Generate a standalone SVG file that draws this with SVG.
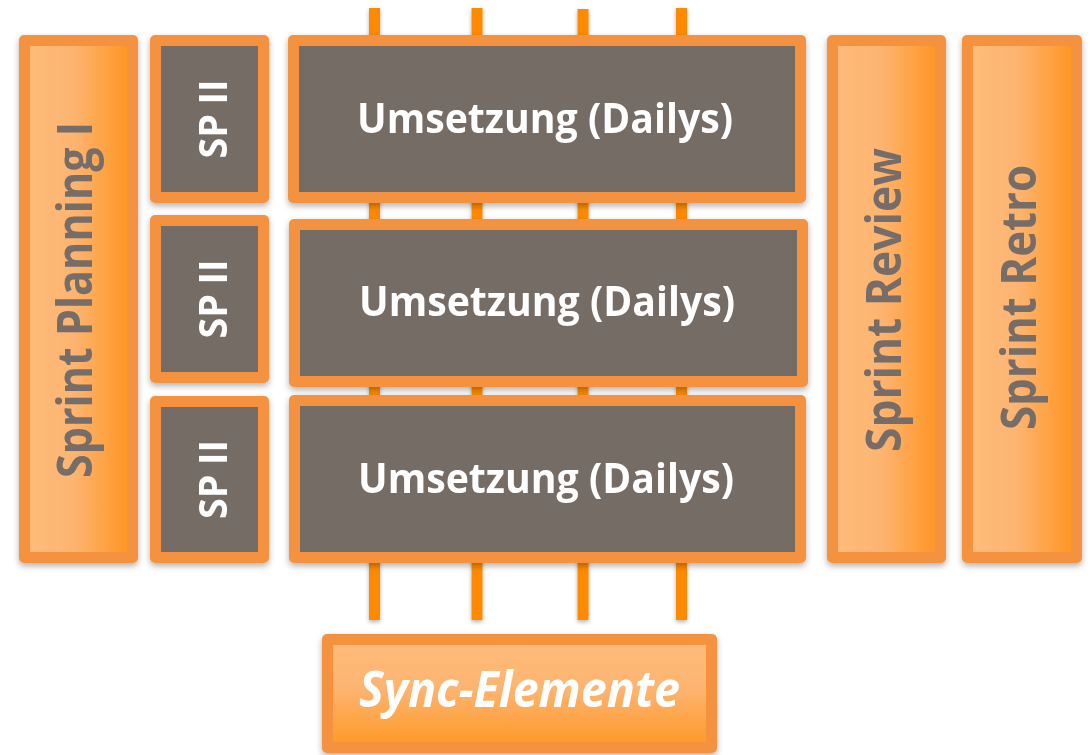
<svg xmlns="http://www.w3.org/2000/svg" width="1092" height="755" viewBox="0 0 1092 755">
  <defs>
    <linearGradient id="gH" x1="0" y1="0" x2="1" y2="0">
      <stop offset="0" stop-color="#FEBB7A"/>
      <stop offset="0.45" stop-color="#FDB470"/>
      <stop offset="1" stop-color="#FF9626"/>
    </linearGradient>
    <linearGradient id="gV" x1="0" y1="0" x2="0" y2="1">
      <stop offset="0" stop-color="#FEBB7A"/>
      <stop offset="0.45" stop-color="#FDB470"/>
      <stop offset="1" stop-color="#FF9A2C"/>
    </linearGradient>
    <filter id="sh" x="-10%" y="-10%" width="120%" height="120%">
      <feDropShadow dx="0" dy="3" stdDeviation="3" flood-color="#000" flood-opacity="0.3"/>
    </filter>
    <filter id="shl" x="-100%" y="-5%" width="300%" height="110%">
      <feDropShadow dx="0" dy="2" stdDeviation="2" flood-color="#000" flood-opacity="0.3"/>
    </filter>
  </defs>
  <style>
    .frame { fill: #F4923F; }
    .dark { fill: #766C66; }
    .light { fill: url(#gH); }
    .lightv { fill: url(#gV); }
    .sync { stroke: #FF8A00; stroke-width: 11; fill: none; }
    text { font-family: "Open Sans", "Noto Sans", "DejaVu Sans", sans-serif; font-weight: bold; }
    .tg { fill: #776D67; font-size: 48px; }
    .tw { fill: #FFFFFF; }
    .sp { font-size: 40px; }
    .um { font-size: 42px; }
    .se { font-size: 50px; font-style: italic; }
  </style>
  <rect width="1092" height="755" fill="#FFFFFF"/>

  <g id="connectors" filter="url(#shl)">
    <line class="sync" x1="374.5" y1="8" x2="374.5" y2="620"/>
    <line class="sync" x1="477" y1="8" x2="477" y2="620"/>
    <line class="sync" x1="583" y1="9" x2="583" y2="620"/>
    <line class="sync" x1="681.5" y1="8" x2="681.5" y2="620"/>
  </g>

  <g id="sprint-planning" filter="url(#sh)">
    <rect class="frame" x="19" y="35" width="119" height="528" rx="5"/>
    <rect class="light" x="30" y="46" width="97" height="506"/>
    <text class="tg" transform="translate(92,300) rotate(-90)" text-anchor="middle" textLength="356" lengthAdjust="spacingAndGlyphs">Sprint Planning I</text>
  </g>

  <g id="sp2-1" filter="url(#sh)">
    <rect class="frame" x="150" y="35" width="119" height="168" rx="5"/>
    <rect class="dark" x="161" y="46" width="97" height="146"/>
    <text class="tw sp" transform="translate(227,119) rotate(-90)" text-anchor="middle" textLength="79" lengthAdjust="spacingAndGlyphs">SP II</text>
  </g>
  <g id="sp2-2" filter="url(#sh)">
    <rect class="frame" x="150" y="215" width="119" height="168" rx="5"/>
    <rect class="dark" x="161" y="226" width="97" height="146"/>
    <text class="tw sp" transform="translate(227,299) rotate(-90)" text-anchor="middle" textLength="79" lengthAdjust="spacingAndGlyphs">SP II</text>
  </g>
  <g id="sp2-3" filter="url(#sh)">
    <rect class="frame" x="150" y="396" width="119" height="167" rx="5"/>
    <rect class="dark" x="161" y="407" width="97" height="145"/>
    <text class="tw sp" transform="translate(227,479.5) rotate(-90)" text-anchor="middle" textLength="79" lengthAdjust="spacingAndGlyphs">SP II</text>
  </g>

  <g id="umsetzung-1" filter="url(#sh)">
    <rect class="frame" x="288" y="35" width="518" height="168" rx="5"/>
    <rect class="dark" x="299" y="46" width="496" height="146"/>
    <text class="tw um" x="545" y="133" text-anchor="middle" textLength="376" lengthAdjust="spacingAndGlyphs">Umsetzung (Dailys)</text>
  </g>
  <g id="umsetzung-2" filter="url(#sh)">
    <rect class="frame" x="289" y="219" width="519" height="168" rx="5"/>
    <rect class="dark" x="300" y="230" width="497" height="146"/>
    <text class="tw um" x="547" y="316" text-anchor="middle" textLength="376" lengthAdjust="spacingAndGlyphs">Umsetzung (Dailys)</text>
  </g>
  <g id="umsetzung-3" filter="url(#sh)">
    <rect class="frame" x="289" y="395" width="517" height="168" rx="5"/>
    <rect class="dark" x="300" y="406" width="495" height="146"/>
    <text class="tw um" x="546" y="493" text-anchor="middle" textLength="376" lengthAdjust="spacingAndGlyphs">Umsetzung (Dailys)</text>
  </g>

  <g id="sprint-review" filter="url(#sh)">
    <rect class="frame" x="827" y="35" width="119" height="528" rx="5"/>
    <rect class="light" x="838" y="46" width="97" height="506"/>
    <text class="tg" transform="translate(901,300) rotate(-90)" text-anchor="middle" textLength="304" lengthAdjust="spacingAndGlyphs">Sprint Review</text>
  </g>

  <g id="sprint-retro" filter="url(#sh)">
    <rect class="frame" x="962" y="35" width="120" height="528" rx="5"/>
    <rect class="light" x="973" y="46" width="98" height="506"/>
    <text class="tg" transform="translate(1036,297.5) rotate(-90)" text-anchor="middle" textLength="265" lengthAdjust="spacingAndGlyphs">Sprint Retro</text>
  </g>

  <g id="sync-elemente" filter="url(#sh)">
    <rect class="frame" x="322" y="634" width="395" height="119" rx="5"/>
    <rect class="lightv" x="333" y="645" width="373" height="97"/>
    <text class="tw se" x="519.5" y="707" text-anchor="middle" textLength="321" lengthAdjust="spacingAndGlyphs">Sync-Elemente</text>
  </g>
</svg>
